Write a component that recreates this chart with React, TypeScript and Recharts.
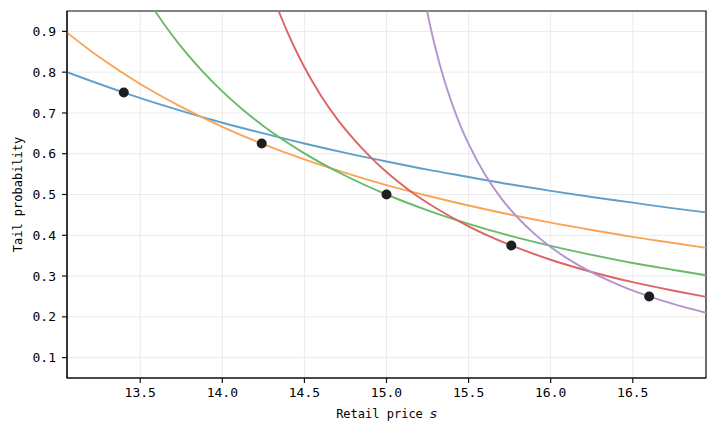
import React from "react";
import {
  ComposedChart,
  Line,
  Scatter,
  XAxis,
  YAxis,
  CartesianGrid,
  ReferenceArea,
} from "recharts";

// Blue curve
const blueS = [13.054, 13.4, 13.75, 14.0, 14.25, 14.5, 14.75, 15.0, 15.25, 15.5, 15.75, 16.0, 16.25, 16.5, 16.75, 16.946];
const blueP = [0.800, 0.750, 0.705, 0.676, 0.650, 0.625, 0.602, 0.581, 0.561, 0.543, 0.525, 0.509, 0.494, 0.480, 0.466, 0.456];

// Orange curve
const orangeS = [13.054, 13.25, 13.5, 13.75, 14.0, 14.24, 14.5, 14.75, 15.0, 15.25, 15.5, 15.75, 16.0, 16.25, 16.5, 16.75, 16.946];
const orangeP = [0.897, 0.837, 0.771, 0.715, 0.666, 0.625, 0.586, 0.553, 0.523, 0.497, 0.473, 0.451, 0.431, 0.413, 0.396, 0.381, 0.369];

// Green curve
const greenS = [13.59, 13.65, 13.75, 13.875, 14.0, 14.125, 14.25, 14.5, 14.75, 15.0, 15.25, 15.5, 15.75, 16.0, 16.25, 16.5, 16.75, 16.946];
const greenP = [0.950, 0.915, 0.862, 0.804, 0.753, 0.708, 0.668, 0.601, 0.546, 0.500, 0.461, 0.428, 0.399, 0.374, 0.352, 0.332, 0.315, 0.302];

// Red curve
const redS = [14.343, 14.4, 14.45, 14.5, 14.6, 14.7, 14.8, 14.9, 15.0, 15.15, 15.3, 15.5, 15.76, 16.0, 16.25, 16.5, 16.75, 16.946];
const redP = [0.950, 0.895, 0.852, 0.812, 0.743, 0.685, 0.636, 0.593, 0.555, 0.507, 0.467, 0.422, 0.375, 0.340, 0.310, 0.285, 0.264, 0.249];

// Purple curve
const purpleS = [15.247, 15.275, 15.3, 15.35, 15.4, 15.45, 15.5, 15.6, 15.7, 15.8, 15.9, 16.0, 16.15, 16.3, 16.45, 16.6, 16.75, 16.946];
const purpleP = [0.950, 0.898, 0.856, 0.783, 0.722, 0.669, 0.624, 0.549, 0.490, 0.443, 0.404, 0.371, 0.331, 0.299, 0.272, 0.250, 0.231, 0.210];

// Black points
const pointS = [13.4, 14.24, 15.0, 15.76, 16.6];
const pointP = [0.75, 0.625, 0.5, 0.375, 0.25];

// Ticks
const xTicks = [13.5, 14.0, 14.5, 15.0, 15.5, 16.0, 16.5];
const yTicks = [0.1, 0.2, 0.3, 0.4, 0.5, 0.6, 0.7, 0.8, 0.9];

const xDomain = [13.054, 16.946];
const yDomain = [0.05, 0.95];

const zip = (xs: number[], ys: number[]) => xs.map((x, i) => ({ x, y: ys[i] }));

const curves = [
  { name: "blue", color: "#5f9fca", data: zip(blueS, blueP) },
  { name: "orange", color: "#f9a556", data: zip(orangeS, orangeP) },
  { name: "green", color: "#69b969", data: zip(greenS, greenP) },
  { name: "red", color: "#dc6464", data: zip(redS, redP) },
  { name: "purple", color: "#b294cf", data: zip(purpleS, purpleP) },
];
const points = zip(pointS, pointP);

const FONT = "'DejaVu Sans Mono', 'Liberation Mono', monospace";

const XLabel = (props: any) => {
  const vb = props.viewBox || {};
  const cx = vb.x + vb.width / 2;
  const y = vb.y + 40;
  return (
    <text x={cx} y={y} textAnchor="middle" fontFamily={FONT} fontSize={12} fill="#000">
      Retail price <tspan fontStyle="italic" fontFamily="'DejaVu Sans', sans-serif" fontSize={13}>s</tspan>
    </text>
  );
};

const YLabel = (props: any) => {
  const vb = props.viewBox || {};
  const cy = vb.y + vb.height / 2;
  const x = 10;
  return (
    <text
      x={x}
      y={cy}
      textAnchor="middle"
      dominantBaseline="central"
      transform={`rotate(-90 ${x} ${cy})`}
      fontFamily={FONT}
      fontSize={12}
      fill="#000"
    >
      Tail probability
    </text>
  );
};

const Dot = (props: any) => (
  <circle cx={props.cx} cy={props.cy} r={5} fill="#1e1e1e" />
);

export default function App() {
  return (
    <ComposedChart
      width={709}
      height={427}
      margin={{ top: 3, right: 11, bottom: 0, left: 0 }}
    >
      <CartesianGrid stroke="#ebebeb" strokeWidth={1} />
      <XAxis
        dataKey="x"
        type="number"
        domain={xDomain}
        ticks={xTicks}
        allowDataOverflow
        tickFormatter={(v: number) => v.toFixed(1)}
        tick={{ fontSize: 13, fontFamily: FONT, fill: "#000" }}
        tickSize={5}
        tickMargin={5}
        height={57}
        stroke="#111"
        strokeWidth={1.2}
        label={<XLabel />}
      />
      <YAxis
        type="number"
        domain={yDomain}
        ticks={yTicks}
        allowDataOverflow
        tickFormatter={(v: number) => v.toFixed(1)}
        tick={{ fontSize: 13, fontFamily: FONT, fill: "#000" }}
        tickSize={5}
        tickMargin={6}
        width={59}
        stroke="#111"
        strokeWidth={1.2}
        label={<YLabel />}
      />
      {curves.map((c) => (
        <Line
          key={c.name}
          data={c.data}
          dataKey="y"
          type="monotone"
          stroke={c.color}
          strokeWidth={1.9}
          dot={false}
          activeDot={false}
          isAnimationActive={false}
        />
      ))}
      <Scatter
        data={points}
        dataKey="y"
        shape={<Dot />}
        isAnimationActive={false}
      />
      <ReferenceArea
        x1={xDomain[0]}
        x2={xDomain[1]}
        y1={yDomain[0]}
        y2={yDomain[1]}
        fill="none"
        fillOpacity={0}
        stroke="#111"
        strokeWidth={1.2}
        ifOverflow="visible"
      />
    </ComposedChart>
  );
}
